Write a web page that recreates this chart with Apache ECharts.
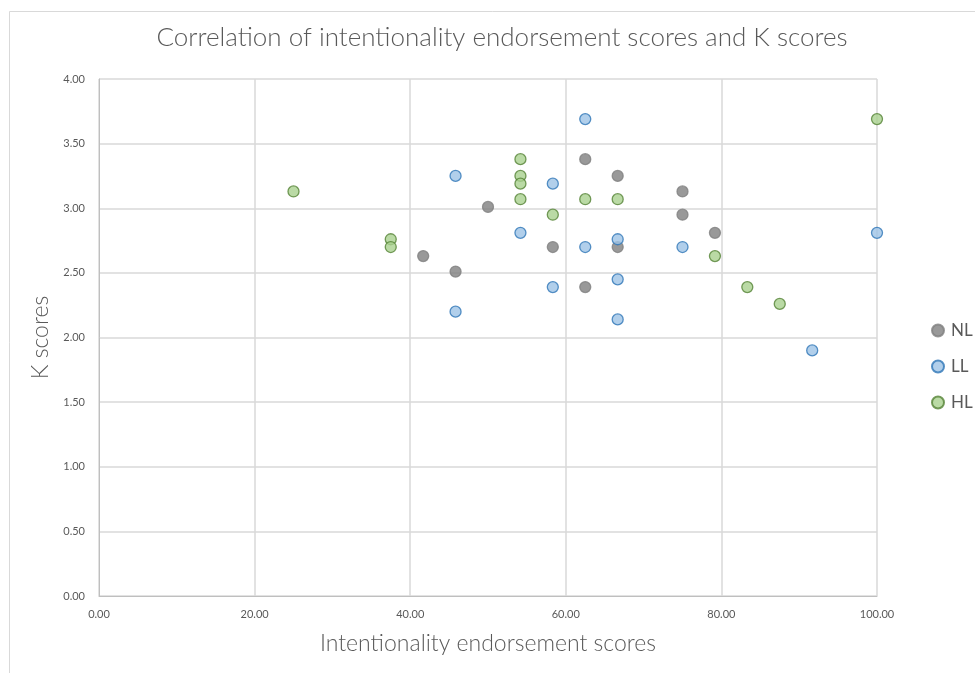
<!DOCTYPE html>
<html>
<head>
<meta charset="utf-8">
<script src="https://cdn.jsdelivr.net/npm/echarts@6/dist/echarts.min.js"></script>
<style>
  html, body { margin: 0; padding: 0; background: #fff; }
  #chart { width: 975px; height: 673px; }
</style>
</head>
<body>
<div id="chart"></div>
<script>
// Intentionality endorsement score (x) vs K score (y), per group
const nlX = [41.67, 45.83, 50.00, 58.33, 62.50, 62.50, 66.67, 66.67, 75.00, 75.00, 79.17];
const nlY = [2.63, 2.51, 3.01, 2.70, 3.38, 2.39, 3.25, 2.70, 3.13, 2.95, 2.81];

const llX = [45.83, 45.83, 54.17, 58.33, 58.33, 62.50, 62.50, 66.67, 66.67, 66.67, 75.00, 91.67, 100.00];
const llY = [3.25, 2.20, 2.81, 3.19, 2.39, 3.69, 2.70, 2.76, 2.45, 2.14, 2.70, 1.90, 2.81];

const hlX = [25.00, 37.50, 37.50, 54.17, 54.17, 54.17, 54.17, 58.33, 62.50, 66.67, 79.17, 83.33, 87.50, 100.00];
const hlY = [3.13, 2.76, 2.70, 3.38, 3.25, 3.19, 3.07, 2.95, 3.07, 3.07, 2.63, 2.39, 2.26, 3.69];

const seriesNames = ['NL', 'LL', 'HL'];

const pairs = (xs, ys) => xs.map((x, i) => [x, ys[i]]);

const textColor = '#595959';
const fontFamily = 'Lato, "Open Sans", sans-serif';

const chart = echarts.init(document.getElementById('chart'), null, { renderer: 'canvas' });

const markerStyles = [
  { color: '#7f7f7f', borderColor: '#7f7f7f', borderWidth: 1.3 },
  { color: '#9dc3e6', borderColor: '#2e75b6', borderWidth: 1.3 },
  { color: '#a9d18e', borderColor: '#548235', borderWidth: 1.3 }
];
const dataSets = [pairs(nlX, nlY), pairs(llX, llY), pairs(hlX, hlY)];

chart.setOption({
  animation: false,
  backgroundColor: '#fff',
  graphic: [{
    type: 'rect',
    left: 7, top: 9,
    shape: { width: 1100, height: 1000 },
    style: { fill: 'none', stroke: '#d9d9d9', lineWidth: 1 },
    silent: true
  }],
  title: {
    text: 'Correlation of intentionality endorsement scores and K scores',
    left: 497, top: 20, textAlign: 'center',
    textStyle: { fontFamily, fontWeight: 300, fontSize: 26, color: textColor }
  },
  legend: {
    orient: 'vertical',
    left: 926, top: 317,
    itemWidth: 12, itemHeight: 12, itemGap: 19,
    icon: 'circle',
    textStyle: { fontFamily, fontSize: 17, color: textColor, padding: [0, 0, 0, 2] },
    data: seriesNames
  },
  grid: { left: 99, right: 98, top: 79, bottom: 77, containLabel: false },
  xAxis: {
    type: 'value', min: 0, max: 100, interval: 20,
    name: 'Intentionality endorsement scores',
    nameLocation: 'middle', nameGap: 36,
    nameTextStyle: { fontFamily, fontWeight: 300, fontSize: 23, color: textColor },
    axisLine: { show: true, lineStyle: { color: '#bfbfbf' } },
    axisTick: { show: false },
    axisLabel: { formatter: v => v.toFixed(2), fontFamily, fontSize: 11, color: textColor, margin: 13 },
    splitLine: { show: true, lineStyle: { color: '#d9d9d9', width: 1.5 } }
  },
  yAxis: {
    type: 'value', min: 0, max: 4, interval: 0.5,
    name: 'K scores',
    nameLocation: 'middle', nameGap: 45, nameRotate: 90,
    nameTextStyle: { fontFamily, fontWeight: 300, fontSize: 23, color: textColor },
    axisLine: { show: true, lineStyle: { color: '#bfbfbf' } },
    axisTick: { show: false },
    axisLabel: { formatter: v => v.toFixed(2), fontFamily, fontSize: 11, color: textColor, margin: 14 },
    splitLine: { show: true, lineStyle: { color: '#d9d9d9', width: 1.5 } }
  },
  series: seriesNames.map((name, i) => ({
    name,
    type: 'scatter',
    symbol: 'circle',
    symbolSize: 11,
    data: dataSets[i],
    itemStyle: markerStyles[i]
  }))
});
</script>
</body>
</html>
